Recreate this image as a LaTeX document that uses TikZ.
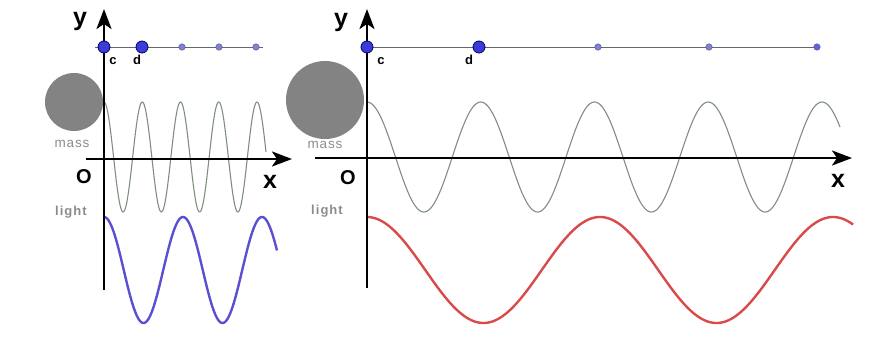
\documentclass[tikz,border=0pt]{standalone}
\usepackage{fontspec}
\setmainfont{Liberation Sans}
\usetikzlibrary{arrows.meta}
\definecolor{massgray}{HTML}{838383}
\definecolor{labgray}{HTML}{8C8C8C}
\definecolor{wavegreen}{HTML}{7F8F7F}
\definecolor{lightblue}{HTML}{5A4FD0}
\definecolor{lightred}{HTML}{D94A4A}
\definecolor{dotblue}{HTML}{3B3BD8}
\definecolor{dotsmall}{HTML}{8080D8}
\tikzset{
  axis/.style={line width=2.5pt,-{Stealth[length=20pt,width=15pt,inset=5pt]}},
  bigdot/.style={circle,fill=dotblue,draw=blue!40!black,line width=0.8pt,inner sep=0pt,minimum size=12pt},
  smalldot/.style={circle,fill=dotsmall,draw=dotsmall!70!black,line width=0.5pt,inner sep=0pt,minimum size=6.5pt},
  rowline/.style={draw=gray!80!black,line width=0.9pt},
  axlab/.style={font=\fontsize{25}{25}\selectfont\bfseries,anchor=base,inner sep=0pt},
  olab/.style={font=\fontsize{20}{20}\selectfont\bfseries,anchor=base,inner sep=0pt},
  ptlab/.style={font=\fontsize{13}{13}\selectfont\bfseries,anchor=base,inner sep=0pt},
  masslab/.style={font=\fontsize{13.5}{13.5}\selectfont\addfontfeature{LetterSpace=6},text=labgray,anchor=base,inner sep=0pt},
  lightlab/.style={font=\fontsize{13}{13}\selectfont\bfseries\addfontfeature{LetterSpace=8},text=labgray,anchor=base,inner sep=0pt},
  masswave/.style={draw=wavegreen,line width=1.1pt},
  lightwave/.style={line width=2.4pt},
}
\begin{document}
\begin{tikzpicture}[x=1pt,y=-1pt]
\useasboundingbox (0,0) rectangle (878,340);
% ---------------- left panel ----------------
\fill[massgray] (74,102) circle (29);
\draw[masswave] plot[domain=104:266,samples=300,smooth] (\x,{157-55*cos((\x-104)*(360/38.25))});
\draw[lightwave,draw=lightblue] plot[domain=104:277,samples=200,smooth] (\x,{270-53*cos((\x-104)*(360/79))});
\coordinate (LyB) at (104,290);
\coordinate (LyT) at (104,9);
\coordinate (LxL) at (86,159);
\coordinate (LxR) at (292,159);
\draw[axis] (LyB) -- (LyT);
\draw[axis] (LxL) -- (LxR);
\coordinate (Lrow0) at (95,47);
\coordinate (Lrow1) at (263,47);
\draw[rowline] (Lrow0) -- (Lrow1);
\node[bigdot] (Lc) at (104,47) {};
\node[bigdot] (Ld) at (142,47) {};
\node[smalldot] (Le) at (182,47) {};
\node[smalldot] (Lf) at (219,47) {};
\node[smalldot] (Lg) at (256,47) {};
\node[axlab] (Ly) at (80,25) {y};
\node[axlab] (Lx) at (270,188) {x};
\node[olab] (LO) at (84,183) {O};
\node[ptlab] (Lcl) at (113,64) {c};
\node[ptlab] (Ldl) at (137,64) {d};
\node[masslab] (Lmass) at (72,147) {mass};
\node[lightlab] (Llight) at (71,215) {light};
% ---------------- right panel ----------------
\fill[massgray] (325,100) circle (39);
\draw[masswave] plot[domain=367:840,samples=500,smooth] (\x,{157-55*cos((\x-367)*(360/113.75))});
\draw[lightwave,draw=lightred] plot[domain=367:853,samples=300,smooth] (\x,{270-53*cos((\x-367)*(360/233))});
\coordinate (RyB) at (367,288);
\coordinate (RyT) at (367,9);
\coordinate (RxL) at (315,158);
\coordinate (RxR) at (852,158);
\draw[axis] (RyB) -- (RyT);
\draw[axis] (RxL) -- (RxR);
\coordinate (Rrow0) at (362,47);
\coordinate (Rrow1) at (818,47);
\draw[rowline] (Rrow0) -- (Rrow1);
\node[bigdot] (Rc) at (367,47) {};
\node[bigdot] (Rd) at (479,47) {};
\node[smalldot] (Re) at (598,47) {};
\node[smalldot] (Rf) at (709,47) {};
\node[smalldot,fill=dotblue!80] (Rg) at (817,47) {};
\node[axlab] (Ry) at (341,26) {y};
\node[axlab] (Rx) at (838,187) {x};
\node[olab] (RO) at (348,184) {O};
\node[ptlab] (Rcl) at (381,64) {c};
\node[ptlab] (Rdl) at (469,64) {d};
\node[masslab] (Rmass) at (325,148) {mass};
\node[lightlab] (Rlight) at (327,214) {light};
\end{tikzpicture}
\end{document}
